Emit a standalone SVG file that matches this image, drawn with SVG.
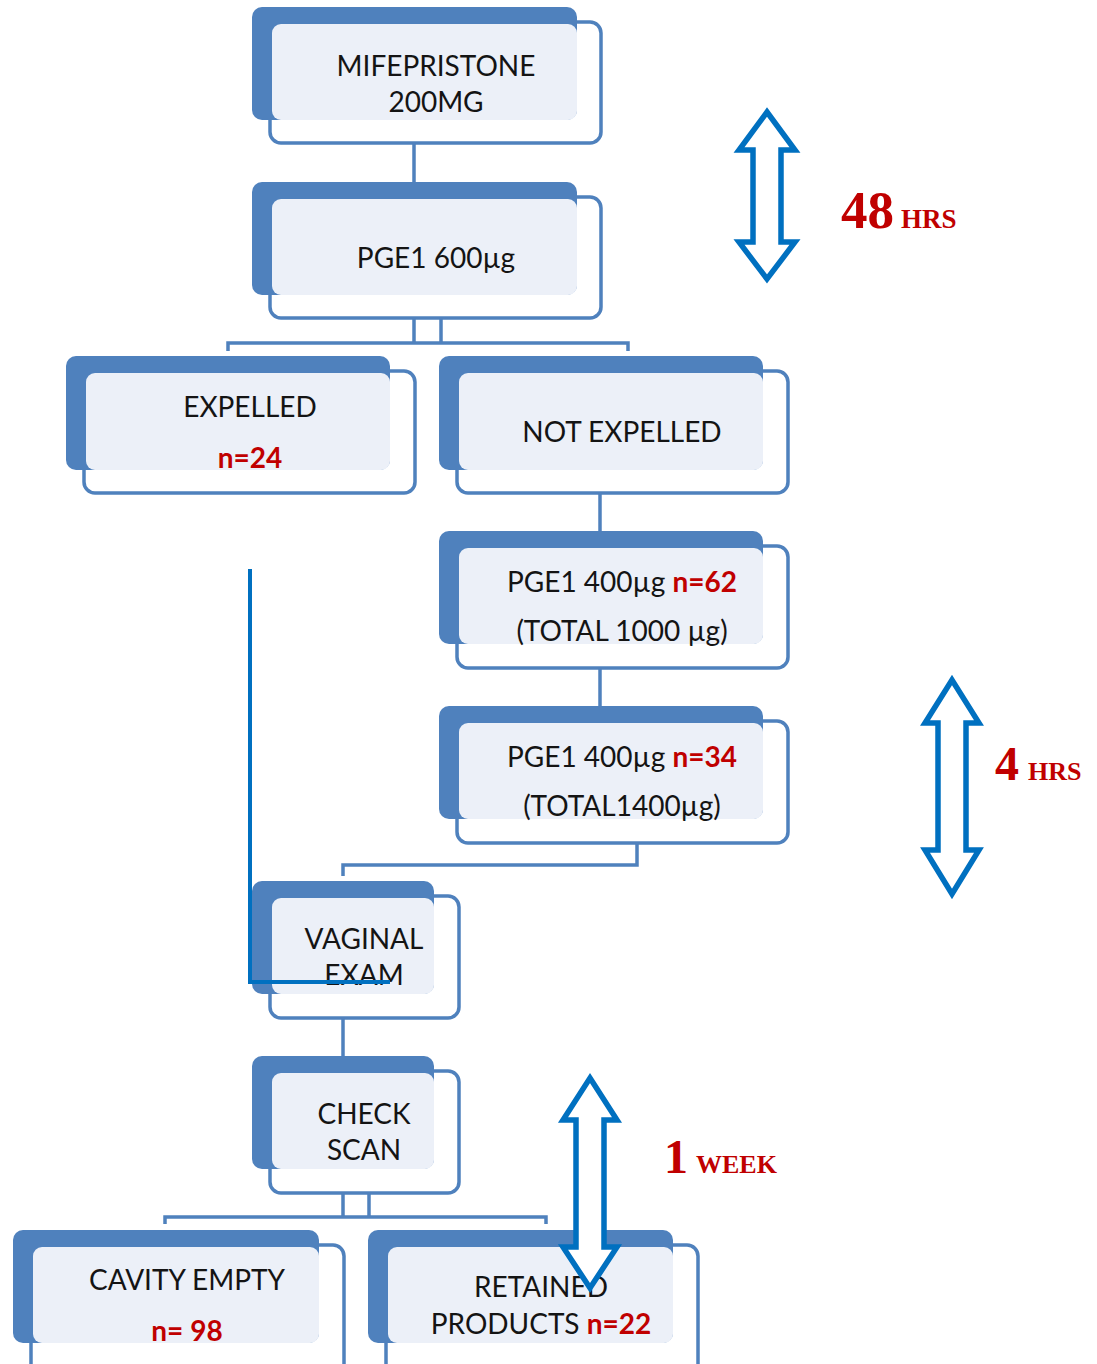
<svg xmlns="http://www.w3.org/2000/svg" width="1097" height="1364" viewBox="0 0 1097 1364">
<style>
.back{fill:#4F81BD}
.frame{fill:#FFFFFF;stroke:#4F81BD;stroke-width:3.5}
.light{fill:#ECF0F8}
.t{font-family:Lato,"Liberation Sans",sans-serif;font-size:28px;fill:#141414;text-anchor:middle}
.r{fill:#C00000;font-weight:bold}
.con{fill:none;stroke:#4F81BD;stroke-width:3.5}
.strong{fill:none;stroke:#0070C0;stroke-width:4}
.arr{fill:#FFFFFF;stroke:#0070C0;stroke-width:5.5;stroke-linejoin:miter}
.big{font-family:"Liberation Serif",serif;font-weight:bold;fill:#C00000}
</style>
<rect width="1097" height="1364" fill="#FFFFFF"/>
<g id="nodes">
<g id="n-mife">
<rect class="frame" x="270" y="22" width="331" height="121" rx="11"/>
<rect class="back" x="252" y="7" width="325" height="113" rx="10"/>
<rect class="light" x="272" y="24" width="305" height="96" rx="9"/>
<text class="t" x="436" y="76">MIFEPRISTONE</text>
<text class="t" x="436" y="112">200MG</text>
</g>
<g id="n-pge600">
<rect class="frame" x="270" y="197" width="331" height="121" rx="11"/>
<rect class="back" x="252" y="182" width="325" height="113" rx="10"/>
<rect class="light" x="272" y="199" width="305" height="96" rx="9"/>
<text class="t" x="436" y="268">PGE1 600µg</text>
</g>
<g id="n-expelled">
<rect class="frame" x="84" y="371" width="331" height="122" rx="11"/>
<rect class="back" x="66" y="356" width="324" height="114" rx="10"/>
<rect class="light" x="86" y="373" width="304" height="97" rx="9"/>
<text class="t" x="250" y="417">EXPELLED</text>
<text class="t r" x="250" y="468">n=24</text>
</g>
<g id="n-notexpelled">
<rect class="frame" x="457" y="371" width="331" height="122" rx="11"/>
<rect class="back" x="439" y="356" width="324" height="114" rx="10"/>
<rect class="light" x="459" y="373" width="304" height="97" rx="9"/>
<text class="t" x="622" y="442">NOT EXPELLED</text>
</g>
<g id="n-pge400a">
<rect class="frame" x="457" y="546" width="331" height="122" rx="11"/>
<rect class="back" x="439" y="531" width="324" height="113" rx="10"/>
<rect class="light" x="459" y="548" width="304" height="96" rx="9"/>
<text class="t" x="622" y="592">PGE1 400µg <tspan class="r">n=62</tspan></text>
<text class="t" x="622" y="641">(TOTAL 1000 µg)</text>
</g>
<g id="n-pge400b">
<rect class="frame" x="457" y="721" width="331" height="122" rx="11"/>
<rect class="back" x="439" y="706" width="324" height="113" rx="10"/>
<rect class="light" x="459" y="723" width="304" height="96" rx="9"/>
<text class="t" x="622" y="767">PGE1 400µg <tspan class="r">n=34</tspan></text>
<text class="t" x="622" y="816">(TOTAL1400µg)</text>
</g>
<g id="n-vaginal">
<rect class="frame" x="270" y="896" width="189" height="122" rx="11"/>
<rect class="back" x="252" y="881" width="182" height="113" rx="10"/>
<rect class="light" x="272" y="898" width="162" height="96" rx="9"/>
<text class="t" x="364" y="949">VAGINAL</text>
<text class="t" x="364" y="985">EXAM</text>
</g>
<g id="n-check">
<rect class="frame" x="270" y="1071" width="189" height="122" rx="11"/>
<rect class="back" x="252" y="1056" width="182" height="113" rx="10"/>
<rect class="light" x="272" y="1073" width="162" height="96" rx="9"/>
<text class="t" x="364" y="1124">CHECK</text>
<text class="t" x="364" y="1160">SCAN</text>
</g>
<g id="n-cavity">
<rect class="frame" x="31" y="1245" width="313" height="130" rx="11"/>
<rect class="back" x="13" y="1230" width="306" height="113" rx="10"/>
<rect class="light" x="33" y="1247" width="286" height="96" rx="9"/>
<text class="t" x="187" y="1290">CAVITY EMPTY</text>
<text class="t r" x="187" y="1341">n= 98</text>
</g>
<g id="n-retained">
<rect class="frame" x="386" y="1245" width="312" height="130" rx="11"/>
<rect class="back" x="368" y="1230" width="305" height="113" rx="10"/>
<rect class="light" x="388" y="1247" width="285" height="96" rx="9"/>
<text class="t" x="541" y="1297">RETAINED</text>
<text class="t" x="541" y="1334">PRODUCTS <tspan class="r">n=22</tspan></text>
</g>
</g>
<g id="connectors">
<path class="con" d="M414,143 V182"/>
<path class="con" d="M414,318 V343 M441,318 V343 M228,351 V343 H628 V351"/>
<path class="con" d="M600,493 V531"/>
<path class="con" d="M600,668 V706"/>
<path class="con" d="M637,843 V865 H343 V876"/>
<path class="con" d="M343,1018 V1056"/>
<path class="con" d="M343,1193 V1217 M369,1193 V1217 M165,1224 V1217 H546 V1224"/>
<path class="strong" d="M250,569 V982 H390"/>
</g>
<g id="timing">
<polygon class="arr" points="767,112 795,150 781,150 781,242 795,242 767,279 739,242 753,242 753,150 739,150"/>
<text class="big" x="841" y="228" font-size="53">48<tspan font-size="27" dx="7">HRS</tspan></text>
<polygon class="arr" points="952,680 979,723 966,723 966,850 979,850 952,894 925,850 938,850 938,723 925,723"/>
<text class="big" x="995" y="780" font-size="48">4<tspan font-size="26" dx="9">HRS</tspan></text>
<polygon class="arr" points="590,1078 617,1120 604,1120 604,1247 617,1247 590,1288 563,1247 576,1247 576,1120 563,1120"/>
<text class="big" x="664" y="1173" font-size="48">1<tspan font-size="26" dx="8">WEEK</tspan></text>
</g>
</svg>
